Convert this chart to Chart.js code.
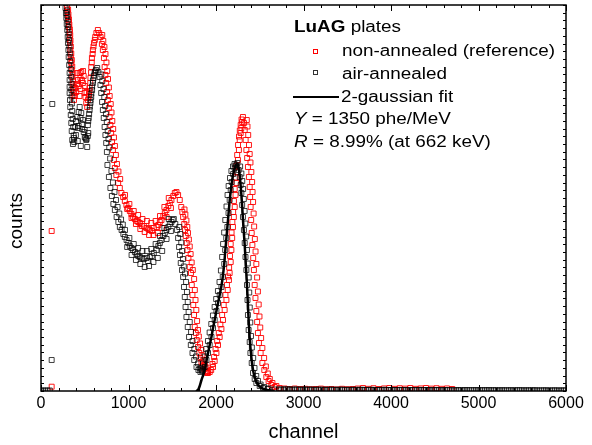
<!DOCTYPE html>
<html>
<head>
<meta charset="utf-8">
<script src="https://cdn.jsdelivr.net/npm/chart.js@4"></script>
<style>
  html, body { margin: 0; padding: 0; background: #fff; }
  #wrap { width: 592px; height: 445px; }
</style>
</head>
<body>
<div id="wrap"><canvas id="spectrum" width="592" height="445"></canvas></div>
<script>
// non-annealed (reference) spectrum, centre of the band
const channelRed = [
  297, 302, 308, 316, 319, 327, 327, 331, 334, 340, 346, 351, 357, 362, 365, 371, 377, 386, 394, 403,
  411, 422, 431, 442, 451, 460, 468, 479, 488, 499, 508, 517, 528, 536, 548, 556, 565, 574, 582, 593,
  605, 620, 633, 650, 665, 681, 696, 707, 719, 727, 736, 745, 755, 764, 776, 784, 793, 802, 812, 822,
  833, 844, 861, 882, 901, 919, 939, 958, 976, 996, 1015, 1033, 1053, 1073, 1095, 1112, 1130, 1152, 1175, 1206,
  1227, 1244, 1267, 1289, 1320, 1341, 1358, 1377, 1398, 1415, 1434, 1455, 1472, 1491, 1512, 1529, 1548, 1567, 1586, 1603,
  1615, 1624, 1637, 1646, 1654, 1666, 1674, 1685, 1700, 1714, 1723, 1731, 1740, 1749, 1757, 1769, 1780, 1795, 1809, 1822,
  1834, 1848, 1866, 1883, 1897, 1909, 1928, 1945, 1966, 1985, 2005, 2023, 2042, 2062, 2080, 2099, 2119, 2134, 2148, 2156,
  2168, 2176, 2185, 2194, 2204, 2214, 2223, 2233, 2242, 2251, 2262, 2271, 2282, 2290, 2299, 2308, 2319, 2328, 2339, 2347,
  2356, 2365, 2376, 2385, 2390, 2396, 2402, 2408, 2416, 2425, 2433, 2442, 2451, 2461, 2470, 2479, 2491, 2510, 2530, 2552,
  2575, 2601, 2632, 2670, 2727, 2784, 2841,
  410, 440, 450, 480, 500, 520,
  960, 1010, 1060, 1110, 1160, 1210, 1260, 1310, 1360, 1410, 1460,
  985, 1035, 1085, 1135, 1185, 1235, 1285, 1335, 1385, 1435, 1485,
  2900, 2960, 3020, 3080, 3140, 3200, 3260, 3320, 3380, 3440, 3500, 3560, 3620, 3680, 3740, 3800,
  3860, 3920, 3980, 4040, 4100, 4160, 4220, 4280, 4340, 4400, 4460, 4520, 4580, 4640, 4700,
  122, 122
];
const countsRed = [
  3840, 3790, 3740, 3690, 3640, 3590, 3530, 3480, 3410, 3340, 3280, 3210, 3140, 3070, 3010, 2950, 2910, 2950, 3030, 2990,
  3070, 3110, 3050, 3180, 3130, 3190, 3110, 3080, 3150, 2980, 2940, 2880, 2840, 2910, 2970, 3030, 3130, 3240, 3330, 3410,
  3480, 3540, 3580, 3610, 3580, 3540, 3470, 3410, 3330, 3240, 3160, 3080, 2990, 2910, 2830, 2740, 2660, 2580, 2490, 2410,
  2310, 2230, 2160, 2080, 2030, 1980, 1940, 1900, 1860, 1830, 1800, 1770, 1740, 1720, 1700, 1690, 1680, 1650, 1650, 1630,
  1620, 1610, 1600, 1630, 1640, 1660, 1690, 1710, 1750, 1780, 1810, 1850, 1880, 1910, 1950, 1980, 1990, 1960, 1910, 1840,
  1790, 1740, 1670, 1610, 1550, 1480, 1410, 1330, 1240, 1180, 1060, 960, 860, 760, 640, 580, 510, 440, 380, 330,
  290, 250, 220, 190, 180, 180, 190, 210, 240, 300, 380, 460, 540, 620, 710, 810, 910, 1010, 1110, 1180,
  1290, 1410, 1530, 1640, 1740, 1840, 1960, 2080, 2190, 2310, 2410, 2510, 2580, 2630, 2690, 2740, 2680, 2610, 2510, 2410,
  2330, 2240, 2140, 2040, 1940, 1840, 1710, 1580, 1460, 1330, 1210, 1060, 930, 800, 690, 580, 480, 380, 280, 210,
  140, 100, 60, 40, 30, 25, 20,
  3180, 2950, 3020, 3200, 3050, 2990,
  1960, 1870, 1800, 1760, 1720, 1700, 1680, 1700, 1750, 1840, 1930,
  1820, 1730, 1670, 1620, 1590, 1560, 1560, 1580, 1630, 1740, 1830,
  25, 20, 22, 18, 20, 24, 18, 20, 16, 22, 18, 20, 25, 30, 22, 28,
  20, 26, 30, 22, 28, 24, 30, 22, 26, 30, 24, 28, 22, 26, 20,
  1600, 43
];
// non-annealed, second column of squares along the steep flanks
const channelRedEdge = [
  310, 314, 320, 324, 330, 334, 337, 341, 346, 352, 357, 363, 368, 373, 378,
  545, 555, 563, 572, 580, 590, 600, 615,
  700, 712, 725, 737, 748, 757, 766, 776, 785, 797, 806, 815, 825, 834, 845, 856, 868, 885, 905,
  1640, 1650, 1662, 1672, 1680, 1690, 1700, 1710, 1722, 1735, 1750, 1758, 1766, 1775, 1784, 1794, 1804, 1818, 1832, 1845,
  1858, 1872, 1890, 1905,
  1960, 1978, 1995, 2013, 2032, 2050, 2070, 2088, 2108, 2125, 2138, 2150, 2160, 2168, 2178, 2187, 2196, 2205, 2214, 2223,
  2232, 2242, 2252, 2263, 2272, 2282, 2292,
  2352, 2360, 2368, 2377, 2385, 2394, 2404, 2413, 2418, 2424, 2430, 2436, 2444, 2452, 2461, 2470, 2479, 2488, 2497, 2506,
  2516, 2530, 2550, 2570, 2592, 2615, 2645, 2690
];
const countsRedEdge = [
  3815, 3765, 3715, 3665, 3615, 3560, 3505, 3445, 3375, 3310, 3245, 3175, 3105, 3040, 2980,
  2940, 3000, 3080, 3185, 3285, 3370, 3445, 3510,
  3560, 3500, 3440, 3370, 3285, 3200, 3120, 3035, 2950, 2870, 2785, 2700, 2620, 2535, 2450, 2360, 2270, 2195, 2120,
  1815, 1765, 1705, 1640, 1580, 1515, 1445, 1370, 1285, 1210, 1120, 1010, 910, 810, 700, 610, 545, 475, 410, 355,
  310, 270, 235, 200,
  270, 340, 420, 500, 580, 665, 760, 860, 960, 1060, 1145, 1235, 1350, 1470, 1585, 1690, 1790, 1900, 2020, 2135,
  2250, 2360, 2460, 2545, 2605, 2660, 2715,
  2710, 2645, 2560, 2460, 2370, 2285, 2190, 2090, 1990, 1890, 1775, 1645, 1520, 1395, 1270, 1135, 995, 865, 745, 635,
  530, 430, 330, 245, 175, 120, 80, 50
];

// air-annealed spectrum, centre of the band
const channelBlack = [
  280, 285, 289, 294, 300, 305, 308, 313, 316, 322, 327, 327, 327, 327, 331, 334, 340, 346, 351, 357,
  365, 377, 391, 399, 414, 422, 431, 442, 451, 460, 468, 479, 488, 499, 508, 517, 528, 536, 545, 556,
  565, 574, 584, 593, 602, 613, 628, 642, 656, 670, 679, 688, 698, 707, 717, 727, 736, 745, 753, 759,
  776, 793, 810, 827, 844, 864, 884, 901, 921, 941, 958, 978, 998, 1015, 1035, 1053, 1073, 1095, 1112, 1130,
  1152, 1175, 1206, 1221, 1244, 1267, 1289, 1320, 1341, 1358, 1377, 1398, 1415, 1434, 1455, 1472, 1491, 1506, 1518, 1535,
  1555, 1567, 1578, 1588, 1597, 1611, 1624, 1634, 1643, 1652, 1662, 1677, 1692, 1712, 1731, 1751, 1777, 1799, 1822, 1846,
  1871, 1891, 1909, 1928, 1948, 1966, 1985, 2005, 2023, 2042, 2062, 2077, 2094, 2105, 2117, 2130, 2143, 2156, 2168, 2179,
  2196, 2214, 2231, 2244, 2259, 2271, 2282, 2290, 2299, 2308, 2319, 2328, 2337, 2347, 2354, 2360, 2365, 2373, 2385, 2393,
  2408, 2423, 2442, 2461, 2499, 2537, 2590, 2670,
  400, 430, 470, 500, 540, 420, 455,
  960, 1010, 1060, 1110, 1160, 1210, 1260, 1310, 1360, 1410, 1460,
  985, 1035, 1085, 1135, 1185, 1235, 1285, 1335, 1385, 1435, 1485,
  2720, 2770, 2820, 2870, 2920, 2970, 3020, 3070, 3120, 3170, 3220, 3270, 3320, 3370, 3420, 3470, 3520,
  3570, 3620, 3670, 3720, 3770, 3820, 3870, 3920, 3970, 4020, 4070, 4120, 4170, 4220, 4270, 4320, 4370,
  4420, 4470, 4520, 4570, 4620, 4670, 4720, 4770, 4820, 4870, 4920, 4970, 5020, 5070, 5120, 5170, 5220,
  5270, 5320, 5370, 5420, 5470, 5520, 5570, 5620, 5670, 5720, 5770, 5820, 5870, 5920, 5970,
  0, 25, 50, 75, 100, 122, 129
];
const countsBlack = [
  3830, 3780, 3730, 3670, 3610, 3540, 3480, 3410, 3340, 3260, 3180, 3110, 3040, 2980, 2910, 2840, 2760, 2680, 2600, 2510,
  2470, 2530, 2640, 2560, 2740, 2630, 2790, 2840, 2730, 2780, 2670, 2710, 2590, 2610, 2530, 2510, 2440, 2660, 2730, 2810,
  2880, 2940, 3010, 3080, 3130, 3180, 3210, 3230, 3190, 3140, 3060, 2980, 2890, 2810, 2730, 2640, 2560, 2480, 2390, 2260,
  2140, 2030, 1950, 1870, 1810, 1740, 1690, 1640, 1610, 1570, 1540, 1510, 1480, 1450, 1430, 1410, 1390, 1370, 1350, 1340,
  1330, 1320, 1330, 1300, 1340, 1350, 1380, 1410, 1450, 1480, 1510, 1550, 1580, 1610, 1640, 1670, 1690, 1710, 1720, 1670,
  1610, 1530, 1440, 1360, 1280, 1210, 1140, 1040, 940, 840, 740, 640, 540, 460, 380, 310, 240, 210, 190, 210,
  240, 310, 380, 460, 540, 630, 710, 800, 880, 960, 1040, 1140, 1270, 1410, 1530, 1640, 1780, 1910, 2010, 2090,
  2170, 2230, 2260, 2280, 2210, 2140, 2060, 1980, 1860, 1740, 1610, 1480, 1340, 1210, 1060, 910, 760, 610, 490, 380,
  280, 180, 120, 80, 50, 30, 20, 15,
  2700, 2650, 2620, 2540, 2580, 2500, 2450,
  1610, 1530, 1470, 1430, 1400, 1400, 1420, 1470, 1550, 1630, 1720,
  1440, 1360, 1310, 1270, 1240, 1250, 1290, 1330, 1400, 1520, 1600,
  16, 15, 17, 14, 15, 13, 15, 14, 12, 14, 13, 12, 14, 12, 13, 11, 12,
  13, 11, 12, 11, 12, 10, 11, 12, 10, 11, 10, 11, 10, 9, 10, 11, 9,
  10, 9, 10, 9, 10, 9, 8, 9, 8, 9, 8, 9, 8, 8, 9, 8, 7,
  8, 7, 8, 7, 8, 7, 7, 8, 7, 6, 7, 6, 7, 6, 6,
  5, 5, 5, 5, 5, 310, 2870
];
// air-annealed, second column of squares along the flanks and the flat tail
const channelBlackEdge = [
  295, 300, 305, 310, 316, 320, 325, 330, 334, 340, 345, 347, 348, 350, 353, 357, 362, 368, 373, 380,
  520, 535, 540, 550, 558, 566, 575, 584, 593, 604, 618,
  690, 700, 714, 723, 733, 742, 752, 762, 771, 780, 790, 805, 822, 840, 857, 875, 895, 915, 935,
  1580, 1592, 1603, 1613, 1622, 1632, 1646, 1658, 1668, 1677, 1687, 1700, 1715, 1732, 1752, 1772, 1795, 1815, 1840,
  1830, 1851, 1870, 1888, 1908, 1927, 1946, 1965, 1984, 2002, 2022, 2040, 2056, 2070, 2081, 2093, 2106, 2120, 2132, 2144,
  2160, 2176, 2194, 2212,
  2276, 2290, 2300, 2310, 2318, 2327, 2336, 2345, 2354, 2363, 2374, 2380, 2386, 2392, 2400, 2410, 2425, 2440, 2460, 2480,
  2510, 2550, 2600,
  2745, 2795, 2845, 2895, 2945, 2995, 3045, 3095, 3145, 3195, 3245, 3295, 3345, 3395, 3445, 3495, 3545, 3595, 3645, 3695,
  3745, 3795, 3845, 3895, 3945, 3995, 4045, 4095, 4145, 4195, 4245, 4295, 4345, 4395, 4445, 4495, 4545, 4595, 4645, 4695,
  4745, 4795, 4845, 4895, 4945, 4995, 5045, 5095, 5145, 5195, 5245, 5295, 5345, 5395, 5445, 5495, 5545, 5595, 5645, 5695,
  5745, 5795, 5845, 5895, 5945, 5995
];
const countsBlackEdge = [
  3805, 3755, 3700, 3640, 3575, 3510, 3445, 3375, 3300, 3220, 3145, 3075, 3010, 2945, 2875, 2800, 2720, 2640, 2555, 2490,
  2520, 2550, 2700, 2770, 2845, 2910, 2975, 3045, 3105, 3155, 3195,
  3165, 3100, 3020, 2940, 2850, 2770, 2690, 2600, 2520, 2435, 2325, 2200, 2085, 1990, 1910, 1840, 1775, 1715, 1665,
  1640, 1570, 1485, 1400, 1320, 1245, 1175, 1090, 990, 890, 790, 690, 590, 500, 420, 345, 275, 225, 200,
  225, 275, 345, 420, 500, 585, 670, 755, 840, 920, 1000, 1090, 1205, 1340, 1470, 1585, 1710, 1845, 1960, 2050,
  2130, 2200, 2245, 2270,
  2245, 2175, 2100, 2020, 1920, 1800, 1675, 1545, 1410, 1275, 1135, 985, 835, 685, 550, 435, 330, 230, 150, 100,
  65, 40, 25,
  15, 16, 14, 15, 14, 14, 13, 14, 13, 13, 12, 13, 12, 12, 13, 12, 11, 12, 12, 11,
  11, 11, 10, 11, 11, 10, 10, 10, 10, 9, 10, 9, 10, 10, 9, 9, 9, 9, 9, 8,
  8, 8, 9, 8, 8, 8, 8, 8, 7, 8, 7, 7, 7, 7, 8, 7, 7, 7, 7, 6,
  7, 6, 6, 6, 6, 6
];

// 2-gaussian fit of the air-annealed photopeak
const channelFit = [
  1768, 1780, 1795, 1814, 1834, 1854, 1871, 1891, 1909, 1928, 1948, 1966, 1985, 2005, 2023, 2042, 2062, 2077, 2094, 2105,
  2117, 2130, 2143, 2156, 2170, 2185, 2202, 2219, 2236, 2250, 2263, 2274, 2285, 2296, 2305, 2316, 2328, 2339, 2351, 2362,
  2373, 2385, 2398, 2413, 2430, 2453, 2482, 2522, 2579, 2670
];
const countsFit = [
  -80, 0, 10, 50, 110, 160, 210, 300, 380, 460, 540, 630, 710, 800, 880, 960, 1050, 1140, 1270, 1390,
  1510, 1640, 1770, 1900, 2010, 2110, 2190, 2240, 2270, 2260, 2210, 2130, 2020, 1890, 1760, 1610, 1460, 1290, 1110, 910,
  710, 530, 390, 270, 180, 110, 60, 30, 10, 0
];

const X_MIN = 0, X_MAX = 6000, X_MAJOR = 1000, X_MINOR = 200;
const Y_MAX = 3860, Y_STEP = 77.2;
const FONT = '"Liberation Sans", Arial, sans-serif';
const STRETCH = 1.18;

const toPoints = (xs, ys) => xs.map((x, i) => ({ x: x, y: ys[i] }));

// box round the plot with inward ticks on all four sides, plus the y title
const frame = {
  id: 'frame',
  afterDatasetsDraw(chart) {
    const { ctx, chartArea: a, scales: { x, y } } = chart;
    ctx.save();
    ctx.strokeStyle = '#000';
    ctx.lineWidth = 1;
    ctx.beginPath();
    for (let v = X_MIN; v <= X_MAX; v += X_MINOR) {
      const px = Math.round(x.getPixelForValue(v)) + 0.5;
      const len = v % X_MAJOR === 0 ? 6 : 3;
      ctx.moveTo(px, a.bottom); ctx.lineTo(px, a.bottom - len);
      ctx.moveTo(px, a.top); ctx.lineTo(px, a.top + len);
    }
    for (let v = 0; v <= Y_MAX + 1; v += Y_STEP) {
      const py = Math.round(y.getPixelForValue(v)) + 0.5;
      ctx.moveTo(a.left, py); ctx.lineTo(a.left + 3, py);
      ctx.moveTo(a.right, py); ctx.lineTo(a.right - 3, py);
    }
    ctx.stroke();
    ctx.lineWidth = 1.5;
    ctx.strokeRect(a.left, a.top, a.right - a.left, a.bottom - a.top);

    ctx.translate(17, 221);
    ctx.rotate(-Math.PI / 2);
    ctx.fillStyle = '#000';
    ctx.font = '19px ' + FONT;
    ctx.textAlign = 'center';
    ctx.textBaseline = 'middle';
    ctx.fillText('counts', 0, 0);
    ctx.restore();
  }
};

// legend with mixed bold / italic text
const legendBox = {
  id: 'legendBox',
  afterDraw(chart) {
    const ctx = chart.ctx;
    const normal = '16px ' + FONT;
    const put = (parts, x, y) => {
      ctx.save();
      ctx.translate(x, y);
      ctx.scale(STRETCH, 1);
      let cx = 0;
      parts.forEach(([t, f]) => {
        ctx.font = f;
        ctx.fillText(t, cx, 0);
        cx += ctx.measureText(t).width;
      });
      ctx.restore();
    };
    ctx.save();
    ctx.fillStyle = '#000';
    ctx.textBaseline = 'alphabetic';
    ctx.textAlign = 'left';
    put([['LuAG', 'bold 16px ' + FONT], [' plates', normal]], 294, 32);
    put([['non-annealed (reference)', normal]], 342, 56);
    put([['air-annealed', normal]], 342, 79);
    put([['2-gaussian fit', normal]], 341, 102);
    put([['Y', 'italic 16px ' + FONT], [' = 1350 phe/MeV', normal]], 294, 124);
    put([['R', 'italic 16px ' + FONT], [' = 8.99% (at 662 keV)', normal]], 294, 147);

    ctx.lineWidth = 1;
    ctx.strokeStyle = '#ff0000';
    ctx.strokeRect(313.5, 49.5, 4, 4);
    ctx.strokeStyle = '#333';
    ctx.strokeRect(313.5, 70.5, 4, 4);
    ctx.strokeStyle = '#000';
    ctx.lineWidth = 2;
    ctx.beginPath();
    ctx.moveTo(293, 97);
    ctx.lineTo(339, 97);
    ctx.stroke();
    ctx.restore();
  }
};

const squares = (color) => ({
  pointStyle: 'rect',
  pointRadius: 3.5,
  borderWidth: 1,
  borderColor: color,
  backgroundColor: 'rgba(0,0,0,0)'
});

new Chart(document.getElementById('spectrum'), {
  type: 'scatter',
  data: {
    datasets: [
      {
        label: '2-gaussian fit',
        type: 'line',
        data: toPoints(channelFit, countsFit),
        showLine: true,
        borderColor: '#000',
        borderWidth: 2.5,
        pointRadius: 0,
        tension: 0.3,
        fill: false
      },
      Object.assign({
        label: 'air-annealed',
        data: toPoints(channelBlack, countsBlack).concat(toPoints(channelBlackEdge, countsBlackEdge))
      }, squares('rgba(0,0,0,0.75)')),
      Object.assign({
        label: 'non-annealed (reference)',
        data: toPoints(channelRed, countsRed).concat(toPoints(channelRedEdge, countsRedEdge))
      }, squares('rgba(255,0,0,0.9)'))
    ]
  },
  options: {
    responsive: false,
    animation: false,
    devicePixelRatio: 1,
    layout: { padding: { top: 5, right: 26, bottom: 0, left: 0 } },
    plugins: {
      legend: { display: false },
      tooltip: { enabled: false }
    },
    scales: {
      x: {
        type: 'linear',
        min: X_MIN,
        max: X_MAX,
        ticks: {
          stepSize: X_MAJOR,
          color: '#000',
          padding: 3,
          font: { family: FONT, size: 16 },
          callback: v => String(v)
        },
        grid: { display: false, drawTicks: false },
        border: { display: false },
        title: {
          display: true,
          text: 'channel',
          color: '#000',
          font: { family: FONT, size: 20 },
          padding: { top: 0, bottom: 1 }
        },
        afterFit: s => { s.height = 54; }
      },
      y: {
        type: 'linear',
        min: 0,
        max: Y_MAX,
        ticks: { display: false },
        grid: { display: false, drawTicks: false },
        border: { display: false },
        afterFit: s => { s.width = 41; }
      }
    }
  },
  plugins: [frame, legendBox]
});
</script>
</body>
</html>
